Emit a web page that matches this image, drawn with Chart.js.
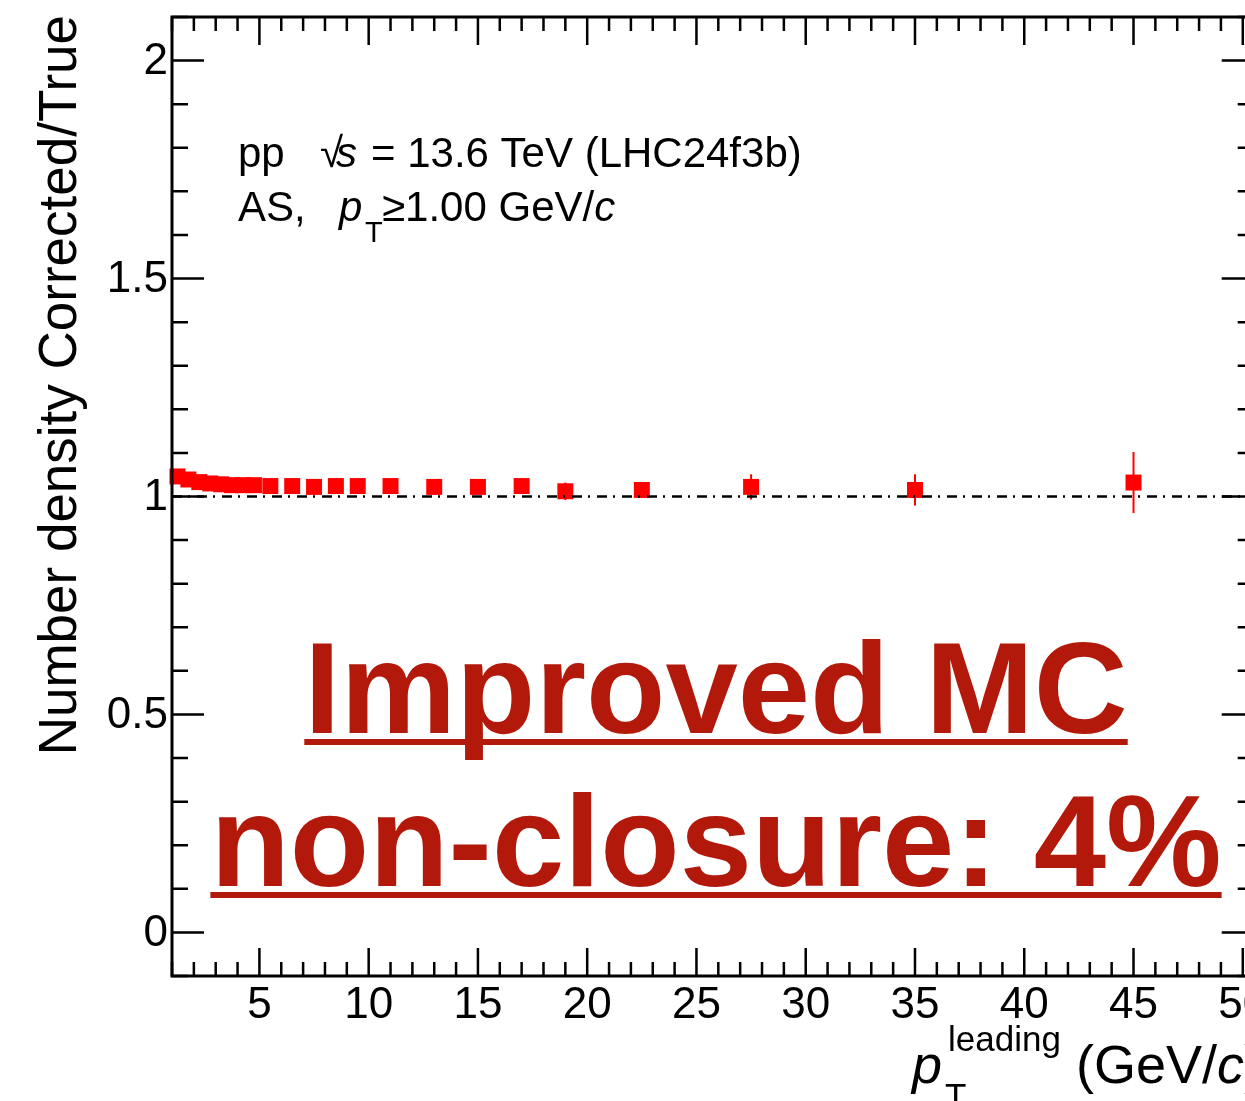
<!DOCTYPE html>
<html>
<head>
<meta charset="utf-8">
<title>Number density closure</title>
<script src="https://cdn.jsdelivr.net/npm/chart.js@4.4.1/dist/chart.umd.min.js"></script>
<style>
  html, body { margin: 0; padding: 0; background: #fff; overflow: hidden; }
  #ratioChart { display: block; }
</style>
</head>
<body>
<canvas id="ratioChart" width="1265" height="1101"></canvas>
<script>
// Leading-track pT bin centres (GeV/c)
const ptBinCenters = [1.25, 1.75, 2.25, 2.75, 3.25, 3.75, 4.25, 4.75, 5.5, 6.5, 7.5, 8.5, 9.5, 11, 13, 15, 17, 19, 22.5, 27.5, 35, 45];
// Corrected / True number density ratio and its error
const ratioValues = [1.046, 1.039, 1.033, 1.030, 1.028, 1.026, 1.026, 1.026, 1.024, 1.024, 1.022, 1.024, 1.024, 1.024, 1.022, 1.022, 1.024, 1.012, 1.015, 1.022, 1.015, 1.032];
const ratioErrors = [0.002, 0.002, 0.002, 0.002, 0.002, 0.002, 0.003, 0.003, 0.003, 0.003, 0.004, 0.004, 0.005, 0.005, 0.006, 0.007, 0.009, 0.020, 0.012, 0.029, 0.036, 0.070];
// Reference line at unity
const unityLineX = [1, 50.5];
const unityLineY = [1, 1];
// Axis tick labels
const xTickValues = [5, 10, 15, 20, 25, 30, 35, 40, 45, 50];
const xTickLabels = ['5', '10', '15', '20', '25', '30', '35', '40', '45', '50'];
const yTickValues = [0, 0.5, 1, 1.5, 2];
const yTickLabels = ['0', '0.5', '1', '1.5', '2'];

const FONT = '"Liberation Sans", Arial, Helvetica, sans-serif';
const MARK_RED = '#ff0000';
const NOTE_RED = '#b3190a';

window.addEventListener('DOMContentLoaded', () => {
    renderRatioChart();
});

function setFont(ctx, size, style) {
    ctx.font = (style ? style + ' ' : '') + size + 'px ' + FONT;
}

/**
 * Draws the vertical error bars under the markers
 */
const errorBarPlugin = {
    id: 'errorBars',
    beforeDatasetsDraw(chart) {
        const ctx = chart.ctx;
        const xs = chart.scales.x;
        const ys = chart.scales.y;
        ctx.save();
        ctx.strokeStyle = MARK_RED;
        ctx.lineWidth = 2;
        ptBinCenters.forEach((pt, i) => {
            const px = xs.getPixelForValue(pt);
            ctx.beginPath();
            ctx.moveTo(px, ys.getPixelForValue(ratioValues[i] - ratioErrors[i]));
            ctx.lineTo(px, ys.getPixelForValue(ratioValues[i] + ratioErrors[i]));
            ctx.stroke();
        });
        ctx.restore();
    }
};

/**
 * ROOT-like frame: inward ticks on all four sides, labels, titles and notes
 */
const rootFramePlugin = {
    id: 'rootFrame',
    afterDraw(chart) {
        const ctx = chart.ctx;
        const area = chart.chartArea;
        const xs = chart.scales.x;
        const ys = chart.scales.y;
        ctx.save();

        // frame
        ctx.strokeStyle = '#000';
        ctx.lineWidth = 3;
        ctx.strokeRect(area.left, area.top, area.right - area.left, area.bottom - area.top);

        // x ticks (every 1, major every 5)
        ctx.lineWidth = 2.5;
        for (let v = 1; v <= 50; v++) {
            const px = xs.getPixelForValue(v);
            const len = v % 5 === 0 ? 28 : 14;
            ctx.beginPath();
            ctx.moveTo(px, area.bottom);
            ctx.lineTo(px, area.bottom - len);
            ctx.moveTo(px, area.top);
            ctx.lineTo(px, area.top + len);
            ctx.stroke();
        }
        // y ticks (every 0.1, major every 0.5)
        for (let i = -1; i <= 21; i++) {
            const py = ys.getPixelForValue(i / 10);
            const len = i % 5 === 0 ? 32 : 16;
            ctx.beginPath();
            ctx.moveTo(area.left, py);
            ctx.lineTo(area.left + len, py);
            ctx.moveTo(area.right, py);
            ctx.lineTo(area.right - len, py);
            ctx.stroke();
        }

        // tick labels
        ctx.fillStyle = '#000';
        setFont(ctx, 44);
        ctx.textAlign = 'center';
        ctx.textBaseline = 'alphabetic';
        xTickValues.forEach((v, i) => {
            ctx.fillText(xTickLabels[i], xs.getPixelForValue(v), 1018);
        });
        ctx.textAlign = 'right';
        ctx.textBaseline = 'middle';
        yTickValues.forEach((v, i) => {
            ctx.fillText(yTickLabels[i], area.left - 4, ys.getPixelForValue(v) + 1);
        });

        // x title: p_T^leading (GeV/c)
        ctx.textAlign = 'left';
        ctx.textBaseline = 'alphabetic';
        setFont(ctx, 54, 'italic');
        ctx.fillText('p', 912, 1083);
        setFont(ctx, 35);
        ctx.fillText('leading', 948, 1051);
        ctx.fillText('T', 945, 1108);
        setFont(ctx, 54);
        let tx = 1076;
        ctx.fillText('(GeV/', tx, 1083);
        tx += ctx.measureText('(GeV/').width;
        setFont(ctx, 54, 'italic');
        ctx.fillText('c', tx, 1083);
        tx += ctx.measureText('c').width;
        setFont(ctx, 54);
        ctx.fillText(')', tx, 1083);

        // y title
        ctx.save();
        ctx.translate(76, 15);
        ctx.rotate(-Math.PI / 2);
        setFont(ctx, 53);
        ctx.textAlign = 'right';
        ctx.fillText('Number density Corrected/True', 0, 0);
        ctx.restore();

        // collision system notes
        setFont(ctx, 42);
        ctx.textAlign = 'left';
        ctx.fillText('pp', 238, 167);
        ctx.fillText('\u221A', 320, 167);
        setFont(ctx, 42, 'italic');
        ctx.fillText('s', 336, 167);
        setFont(ctx, 42);
        ctx.fillText('= 13.6 TeV (LHC24f3b)', 371, 167);

        ctx.fillText('AS,', 238, 221);
        setFont(ctx, 42, 'italic');
        ctx.fillText('p', 339, 221);
        setFont(ctx, 29);
        ctx.fillText('T', 365, 242);
        setFont(ctx, 42);
        let nx = 382;
        ctx.fillText('\u22651.00 GeV/', nx, 221);
        nx += ctx.measureText('\u22651.00 GeV/').width;
        setFont(ctx, 42, 'italic');
        ctx.fillText('c', nx, 221);

        // big red statement, underlined
        ctx.fillStyle = NOTE_RED;
        setFont(ctx, 130, 'bold');
        ctx.textAlign = 'center';
        const lines = [['Improved MC', 733], ['non-closure: 4%', 886]];
        lines.forEach(([text, base]) => {
            ctx.fillText(text, 716, base);
            const w = ctx.measureText(text).width;
            ctx.fillRect(716 - w / 2, base + 6, w, 6);
        });

        ctx.restore();
    }
};

/**
 * Renders the Corrected/True closure ratio
 */
function renderRatioChart() {
    const ctx = document.getElementById('ratioChart').getContext('2d');
    new Chart(ctx, {
        type: 'scatter',
        data: {
            datasets: [{
                label: 'Unity',
                type: 'line',
                data: unityLineX.map((x, i) => ({ x: x, y: unityLineY[i] })),
                borderColor: '#000',
                borderWidth: 2.5,
                borderDash: [10, 6, 2, 7],
                pointRadius: 0,
                fill: false,
                order: 0
            }, {
                label: 'Corrected/True',
                data: ptBinCenters.map((x, i) => ({ x: x, y: ratioValues[i] })),
                backgroundColor: MARK_RED,
                borderWidth: 0,
                pointStyle: 'rect',
                pointRadius: 11.3,
                pointHoverRadius: 11.3,
                clip: false,
                order: 1
            }]
        },
        options: {
            responsive: false,
            animation: false,
            layout: { padding: { left: 172, right: 10, top: 17, bottom: 125 } },
            scales: {
                x: { type: 'linear', min: 1, max: 50.5, display: false },
                y: { type: 'linear', min: -0.1, max: 2.1, display: false }
            },
            plugins: {
                legend: { display: false },
                tooltip: { enabled: false }
            }
        },
        plugins: [errorBarPlugin, rootFramePlugin]
    });
}
</script>
</body>
</html>
